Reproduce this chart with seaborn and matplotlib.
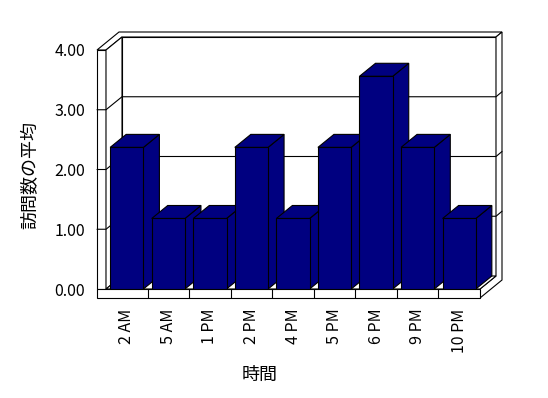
import matplotlib
matplotlib.use("Agg")
import matplotlib.pyplot as plt
import seaborn as sns
from matplotlib.patches import Polygon, Rectangle

# ---- data ----
categories = ["2 AM", "5 AM", "1 PM", "2 PM", "4 PM", "5 PM", "6 PM", "9 PM", "10 PM"]
values = [2.37, 1.18, 1.18, 2.37, 1.18, 2.37, 3.56, 2.37, 1.18]
yticks = [0, 1, 2, 3, 4]
ytick_labels = ["0.00", "1.00", "2.00", "3.00", "4.00"]
ylabel = "訪問数の平均"
xlabel = "時間"

sns.set_theme(style="white")
plt.rcParams["font.family"] = ["Noto Sans CJK JP", "DejaVu Sans"]

W, H = 548, 398
fig = plt.figure(figsize=(W / 100, H / 100), dpi=100)
fig.patch.set_facecolor("white")

# front plane of the plot (pixels)
L, R, B, T = 106, 480, 289, 50
ax = fig.add_axes([L / W, 1 - B / H, (R - L) / W, (B - T) / H])
ax.patch.set_visible(False)

n = len(categories)
sx = (R - L) / n
sy = (B - T) / 4.0
LW = 0.8


def X(px):
    return -0.5 + (px - L) / sx


def Y(py):
    return (B - py) / sy


def P(pts):
    return [(X(a), Y(b)) for a, b in pts]


# bars (front faces) via seaborn
sns.barplot(x=categories, y=values, color="#000080", saturation=1, width=0.8,
            edgecolor="black", linewidth=LW, ax=ax)
bars = [p for p in ax.patches if isinstance(p, Rectangle)]

# depth offsets (pixels)
D1x, D1y = 16, 13   # inner back plane
D2x, D2y = 22, 18   # outer back plane
tw = 9              # wall / floor thickness

deco = dict(facecolor="white", edgecolor="black", linewidth=LW, clip_on=False, zorder=1)

# back wall face
ax.add_patch(Polygon(P([(L + D1x, B - D1y), (R + D1x, B - D1y), (R + D1x, T - D1y), (L + D1x, T - D1y)]), **deco))
# top of left wall + back wall
ax.add_patch(Polygon(P([(L - tw, T), (L, T), (L + D1x, T - D1y), (R + D1x, T - D1y),
                        (R + D2x, T - D2y), (L - tw + D2x, T - D2y)]), **deco))
# right end of back wall / floor
ax.add_patch(Polygon(P([(R, B), (R, B + tw), (R + D2x, B + tw - D2y), (R + D2x, T - D2y),
                        (R + D1x, T - D1y), (R + D1x, B - D1y)]), **deco))
# left wall front strip and inner side
ax.add_patch(Polygon(P([(L - tw, T), (L, T), (L, B), (L - tw, B)]), **deco))
ax.add_patch(Polygon(P([(L, T), (L + D1x, T - D1y), (L + D1x, B - D1y), (L, B)]), **deco))
# floor top and front strip
ax.add_patch(Polygon(P([(L, B), (R, B), (R + D1x, B - D1y), (L + D1x, B - D1y)]), **deco))
ax.add_patch(Polygon(P([(L - tw, B), (R, B), (R, B + tw), (L - tw, B + tw)]), **deco))

# gridlines
for v in yticks[1:-1]:
    yv = B - v * sy
    pts = P([(L - tw, yv), (L, yv), (L + D1x, yv - D1y), (R + D1x, yv - D1y), (R + D2x, yv - D2y)])
    ax.plot([p[0] for p in pts], [p[1] for p in pts], color="black", lw=LW, clip_on=False, zorder=1.5)

# floor dividers
for k in range(1, n):
    ax.plot([k - 0.5, k - 0.5], [Y(B), Y(B + tw)], color="black", lw=LW, clip_on=False, zorder=1.5)

# 3D top and side faces of the bars
ddx, ddy = D1x / sx, D1y / sy
for i, p in enumerate(bars):
    x0, w, h = p.get_x(), p.get_width(), p.get_height()
    x1 = x0 + w
    p.set_zorder(10 + 3 * i + 2)
    side = Polygon([(x1, 0), (x1, h), (x1 + ddx, h + ddy), (x1 + ddx, ddy)],
                   facecolor="#000080", edgecolor="black", lw=LW, zorder=10 + 3 * i, clip_on=False)
    top = Polygon([(x0, h), (x1, h), (x1 + ddx, h + ddy), (x0 + ddx, h + ddy)],
                  facecolor="#000080", edgecolor="black", lw=LW, zorder=10 + 3 * i + 1, clip_on=False)
    ax.add_patch(side)
    ax.add_patch(top)

ax.set_xlim(-0.5, n - 0.5)
ax.set_ylim(0, 4)
ax.set_yticks(yticks)
ax.set_yticklabels(ytick_labels)
for s in ax.spines.values():
    s.set_visible(False)
ax.grid(False)
ax.tick_params(axis="y", length=0, pad=15, labelsize=11.5, colors="black")
ax.tick_params(axis="x", length=0, pad=14, labelsize=11.5, colors="black", rotation=90)

ax.set_xlabel(xlabel, fontsize=13, color="black")
ax.set_ylabel(ylabel, fontsize=13, color="black", va="center")
ax.xaxis.set_label_coords((260 - L) / (R - L), (B - 366) / (B - T))
ax.yaxis.set_label_coords((30 - L) / (R - L), (B - 175) / (B - T))

fig.savefig("out.png", dpi=100, facecolor="white")
